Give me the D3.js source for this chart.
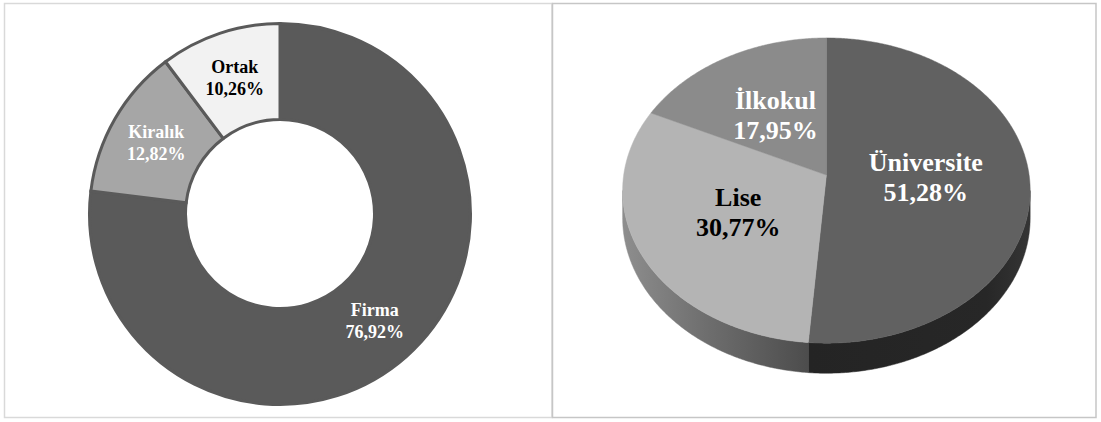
<!DOCTYPE html>
<html>
<head>
<meta charset="utf-8">
<script src="https://cdn.jsdelivr.net/npm/d3@7/dist/d3.min.js"></script>
<style>
  html, body { margin: 0; padding: 0; background: #ffffff; }
  svg { display: block; }
  text { font-family: "Liberation Serif", "Times New Roman", serif; font-weight: bold; }
</style>
</head>
<body>
<svg id="chart" width="1101" height="422"></svg>
<script>
// ---- data ----
const donutCategories = ["Firma", "Kiralık", "Ortak"];
const donutValues = [76.92, 12.82, 10.26];
const pieCategories = ["Üniversite", "Lise", "İlkokul"];
const pieValues = [51.28, 30.77, 17.95];

// ---- styles ----
const donutColors = ["#5a5a5a", "#a6a6a6", "#f2f2f2"];
const donutTextColors = ["#ffffff", "#ffffff", "#000000"];
const pieTopColors = ["#616161", "#b4b4b4", "#8b8b8b"];
const pieTextColors = ["#ffffff", "#000000", "#ffffff"];

const loc = d3.formatLocale({decimal: ",", thousands: ".", grouping: [3], currency: ["", ""]});
const fmt = v => loc.format(".2f")(v) + "%";

const svg = d3.select("#chart");
const defs = svg.append("defs");

// panel frames
svg.append("rect").attr("x", 4.5).attr("y", 3.5).attr("width", 547.5).attr("height", 414)
  .attr("fill", "#fff").attr("stroke", "#d9d9d9").attr("stroke-width", 1.5);
svg.append("rect").attr("x", 552.5).attr("y", 3.5).attr("width", 543.5).attr("height", 414)
  .attr("fill", "#fff").attr("stroke", "#c6c6c6").attr("stroke-width", 1.5);

// ---- donut ----
const dcx = 280, dcy = 214;
const pie = d3.pie().sort(null).value(d => d.v).startAngle(0).endAngle(2 * Math.PI);
const donutData = pie(donutCategories.map((c, i) => ({c, v: donutValues[i], i})));
const arc = d3.arc().innerRadius(94.5).outerRadius(190.5);
const gD = svg.append("g").attr("transform", `translate(${dcx},${dcy})`);
gD.selectAll("path").data(donutData).join("path")
  .attr("d", arc)
  .attr("fill", d => donutColors[d.data.i])
  .attr("stroke", "#5a5a5a").attr("stroke-width", 3).attr("stroke-linejoin", "miter");

const labelArc = d3.arc().innerRadius(143).outerRadius(143);
const dl = gD.selectAll("g.lab").data(donutData).join("g").attr("class", "lab")
  .attr("transform", d => { const [x, y] = labelArc.centroid(d); return `translate(${x},${y})`; });
dl.append("text").attr("text-anchor", "middle").attr("y", -5).attr("font-size", 18)
  .attr("fill", d => donutTextColors[d.data.i]).text(d => d.data.c);
dl.append("text").attr("text-anchor", "middle").attr("y", 17).attr("font-size", 18)
  .attr("fill", d => donutTextColors[d.data.i]).text(d => fmt(d.data.v));

// ---- 3D pie (perspective projection) ----
const pcx = 826.4, pcy = 175, A = 202.7, B = 151, K = 0.102, DEPTH = 27;
function proj(theta, t, down) {
  const s = Math.sin(theta), c = Math.cos(theta);
  const w = 1 + K * t * c;
  return [pcx + A * t * s / w, pcy - B * t * c / w + (down ? DEPTH / w : 0)];
}
const pieData = pie(pieCategories.map((c, i) => ({c, v: pieValues[i], i})));
const line = d3.line();
function samples(a0, a1) {
  const n = Math.max(2, Math.ceil((a1 - a0) / (Math.PI / 360)));
  return d3.range(n + 1).map(j => a0 + (a1 - a0) * j / n);
}
const thR = Math.acos(-K), thL = 2 * Math.PI - Math.acos(-K);

// gradients for side walls
const g1 = defs.append("linearGradient").attr("id", "sideLise").attr("gradientUnits", "userSpaceOnUse")
  .attr("x1", 622).attr("x2", 810).attr("y1", 0).attr("y2", 0);
g1.append("stop").attr("offset", 0).attr("stop-color", "#8e8e8e");
g1.append("stop").attr("offset", 0.45).attr("stop-color", "#6e6e6e");
g1.append("stop").attr("offset", 1).attr("stop-color", "#4c4c4c");
const g0 = defs.append("linearGradient").attr("id", "sideUni").attr("gradientUnits", "userSpaceOnUse")
  .attr("x1", 810).attr("x2", 1031).attr("y1", 0).attr("y2", 0);
g0.append("stop").attr("offset", 0).attr("stop-color", "#242424");
g0.append("stop").attr("offset", 0.8).attr("stop-color", "#272727");
g0.append("stop").attr("offset", 1).attr("stop-color", "#353535");
const sideFills = ["url(#sideUni)", "url(#sideLise)", "#777777"];

const gP = svg.append("g");
// side walls
pieData.forEach(d => {
  const lo = Math.max(d.startAngle, thR), hi = Math.min(d.endAngle, thL);
  if (hi <= lo) return;
  const ang = samples(lo, hi);
  const pts = ang.map(a => proj(a, 1, false)).concat(ang.slice().reverse().map(a => proj(a, 1, true)));
  gP.append("path").attr("d", line(pts) + "Z").attr("fill", sideFills[d.data.i])
    .attr("stroke", sideFills[d.data.i]).attr("stroke-width", 0.5);
});
// top faces
pieData.forEach(d => {
  const pts = [proj(0, 0, false)].concat(samples(d.startAngle, d.endAngle).map(a => proj(a, 1, false)));
  gP.append("path").attr("d", line(pts) + "Z").attr("fill", pieTopColors[d.data.i])
    .attr("stroke", pieTopColors[d.data.i]).attr("stroke-width", 0.5);
});
// labels
pieData.forEach(d => {
  const mid = (d.startAngle + d.endAngle) / 2;
  const [x, y] = proj(mid, 0.49, false);
  const g = gP.append("g").attr("transform", `translate(${x},${y})`);
  g.append("text").attr("text-anchor", "middle").attr("y", -6.5).attr("font-size", 26)
    .attr("fill", pieTextColors[d.data.i]).text(d.data.c);
  g.append("text").attr("text-anchor", "middle").attr("y", 23.5).attr("font-size", 26)
    .attr("fill", pieTextColors[d.data.i]).text(fmt(d.data.v));
});
</script>
</body>
</html>
